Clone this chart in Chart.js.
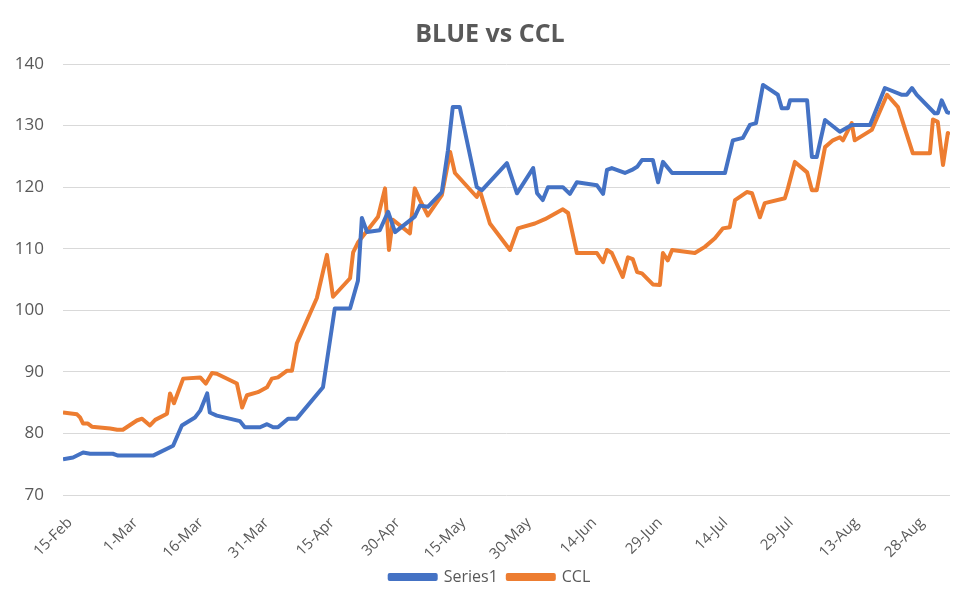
<!DOCTYPE html>
<html>
<head>
<meta charset="utf-8">
<title>BLUE vs CCL</title>
<script src="https://cdn.jsdelivr.net/npm/chart.js@4.4.1/dist/chart.umd.min.js"></script>
<style>
  html, body { margin: 0; padding: 0; background: #fff; }
  #wrap { width: 980px; height: 604px; position: relative; }
</style>
</head>
<body>
<div id="wrap"><canvas id="chart"></canvas></div>
<script>
// ----- Data (x = days since 15-Feb-2020) -----
const startDate = new Date(2020, 1, 15);
const axisEndDay = 203;
const tickDays = [0, 15, 30, 45, 60, 75, 90, 105, 120, 135, 150, 165, 180, 195];

const blueDays = [
  0, 2.3, 4.6, 6.2, 11.4, 12.6, 20.6, 25.2, 27.2, 30.2, 31.4, 33.0, 33.6, 35.2,
  40.5, 41.6, 45.1, 46.7, 48.1, 49.2, 51.5, 53.5, 59.5, 62.2, 65.7, 67.5, 68.4,
  69.6, 72.5, 74.4, 76.0, 80.5, 81.7, 83.5, 86.7, 88.1, 89.2, 90.8, 94.7, 95.9,
  101.6, 103.9, 107.6, 108.5, 109.8, 111.0, 114.4, 116.0, 117.6, 122.2, 123.6,
  124.5, 125.6, 128.6, 130.2, 131.4, 132.5, 135.0, 136.2, 137.3, 139.4, 151.5,
  153.3, 155.6, 157.2, 158.6, 160.2, 163.6, 164.5, 165.9, 166.4, 170.3, 171.4,
  172.5, 174.4, 177.8, 180.5, 184.7, 188.1, 192.0, 193.1, 194.3, 195.4, 199.5,
  200.2, 201.1, 202.3, 203.0
];
const blueValues = [
  75.8, 76.1, 76.9, 76.7, 76.7, 76.4, 76.4, 78.0, 81.3, 82.6, 83.7, 86.5, 83.4, 82.9,
  82.0, 81.0, 81.0, 81.5, 81.0, 81.0, 82.4, 82.4, 87.5, 100.3, 100.3, 104.8, 115.0,
  112.7, 113.0, 116.0, 112.7, 115.2, 117.0, 116.8, 119.2, 126.0, 133.0, 133.0, 120.0, 119.5,
  123.9, 119.0, 123.1, 119.0, 117.9, 120.0, 120.0, 118.9, 120.8, 120.3, 118.9,
  122.8, 123.1, 122.3, 122.8, 123.3, 124.4, 124.4, 120.8, 124.1, 122.3, 122.3,
  127.6, 128.0, 130.1, 130.4, 136.6, 135.0, 132.8, 132.8, 134.1, 134.1, 124.9,
  124.9, 130.9, 129.0, 130.1, 130.1, 136.1, 135.0, 135.0, 136.1, 135.0, 132.0,
  132.0, 134.1, 132.2, 132.0
];

const cclDays = [
  0, 3.2, 3.9, 4.6, 5.7, 6.6, 10.8, 12.4, 13.7, 16.9, 18.1, 19.9, 21.1, 23.8, 24.5,
  25.4, 27.5, 31.4, 32.7, 34.1, 35.2, 39.8, 41.0, 42.1, 44.6, 46.7, 47.8, 49.2, 51.3,
  52.4, 53.5, 58.1, 60.4, 61.8, 65.7, 66.4, 67.5, 72.1, 73.7, 74.6, 75.5, 79.4, 80.5,
  81.7, 83.5, 86.7, 88.6, 89.7, 94.7, 95.4, 97.7, 102.3, 104.1, 108.0, 110.3, 114.4,
  115.6, 117.6, 122.2, 123.6, 124.5, 125.6, 128.1, 129.3, 130.4, 131.4, 132.5, 135.0,
  136.6, 137.3, 138.4, 139.4, 144.6, 146.9, 149.2, 151.0, 152.6, 153.8, 156.5, 157.7,
  159.5, 160.6, 165.2, 165.9, 167.5, 170.3, 171.4, 172.5, 174.4, 176.2, 177.8, 178.5,
  180.5, 181.2, 185.1, 188.6, 191.1, 194.5, 198.4, 199.1, 200.2, 201.4, 202.5, 203.0
];
const cclValues = [
  83.4, 83.1, 82.6, 81.6, 81.6, 81.1, 80.8, 80.6, 80.6, 82.1, 82.4, 81.3, 82.2, 83.2, 86.5,
  84.9, 88.9, 89.1, 88.1, 89.8, 89.7, 88.1, 84.2, 86.2, 86.7, 87.5, 88.9, 89.1, 90.2,
  90.2, 94.6, 102.0, 109.0, 102.2, 105.2, 109.4, 111.0, 115.2, 119.8, 109.8, 114.7, 112.5, 119.8,
  117.9, 115.4, 118.7, 125.7, 122.3, 118.4, 119.5, 114.1, 109.8, 113.3, 114.1, 114.8, 116.4,
  115.8, 109.3, 109.3, 107.8, 109.8, 109.3, 105.4, 108.6, 108.3, 106.2, 106.0, 104.2,
  104.1, 109.3, 108.1, 109.8, 109.3, 110.3, 111.7, 113.3, 113.5, 117.9, 119.2, 119.0,
  115.1, 117.4, 118.2, 119.8, 124.1, 122.4, 119.5, 119.5, 126.5, 127.6, 128.1, 127.6,
  130.4, 127.6, 129.3, 135.0, 133.0, 125.5, 125.5, 131.0, 130.6, 123.6, 128.8, 128.6
];

const monthNames = ["Jan","Feb","Mar","Apr","May","Jun","Jul","Aug","Sep","Oct","Nov","Dec"];

function dayLabel(offset) {
  const d = new Date(startDate.getTime());
  d.setDate(d.getDate() + offset);
  return d.getDate() + "-" + monthNames[d.getMonth()];
}

function toPoints(days, values) {
  return days.map((x, i) => ({ x: x, y: values[i] }));
}

const textColor = "#595959";
const gridColor = "#D9D9D9";
const fontFamily = "'Open Sans', 'Liberation Sans', sans-serif";

const ctx = document.getElementById("chart").getContext("2d");
new Chart(ctx, {
  type: "line",
  data: {
    datasets: [
      {
        label: "Series1",
        data: toPoints(blueDays, blueValues),
        borderColor: "#4472C4",
        backgroundColor: "#4472C4",
        borderWidth: 4,
        pointRadius: 0,
        tension: 0,
        borderJoinStyle: "round"
      },
      {
        label: "CCL",
        data: toPoints(cclDays, cclValues),
        borderColor: "#ED7D31",
        backgroundColor: "#ED7D31",
        borderWidth: 4,
        pointRadius: 0,
        tension: 0,
        borderJoinStyle: "round"
      }
    ]
  },
  options: {
    responsive: true,
    maintainAspectRatio: false,
    animation: false,
    layout: { padding: { left: 0, right: 0, top: 0, bottom: 9 } },
    scales: {
      x: {
        type: "linear",
        min: 0,
        max: axisEndDay,
        grid: { display: false },
        border: { display: false },
        afterBuildTicks: axis => { axis.ticks = tickDays.map(v => ({ value: v })); },
        afterFit: axis => { axis.height = 64; },
        ticks: {
          color: textColor,
          font: { family: fontFamily, size: 15 },
          minRotation: 45,
          maxRotation: 45,
          autoSkip: false,
          padding: 11,
          labelOffset: 7,
          callback: value => dayLabel(value)
        }
      },
      y: {
        min: 70,
        max: 140,
        afterFit: axis => { axis.width = 63; },
        grid: { color: gridColor, lineWidth: 1, drawTicks: false },
        border: { display: false },
        ticks: {
          stepSize: 10,
          color: textColor,
          padding: 19,
          font: { family: fontFamily, size: 17 }
        }
      },
      // empty right-hand margin so the title and legend stay centred on the page
      yRight: {
        position: "right",
        min: 70,
        max: 140,
        afterFit: axis => { axis.width = 30; },
        grid: { display: false },
        border: { display: false },
        ticks: { display: false }
      }
    },
    plugins: {
      title: {
        display: true,
        text: "BLUE vs CCL",
        color: textColor,
        font: { family: fontFamily, size: 25, weight: "bold" },
        padding: { top: 20, bottom: 14 }
      },
      legend: {
        position: "bottom",
        labels: {
          color: textColor,
          font: { family: fontFamily, size: 16 },
          boxWidth: 46,
          boxHeight: 4,
          padding: 10
        }
      },
      tooltip: { enabled: false }
    }
  }
});
</script>
</body>
</html>
